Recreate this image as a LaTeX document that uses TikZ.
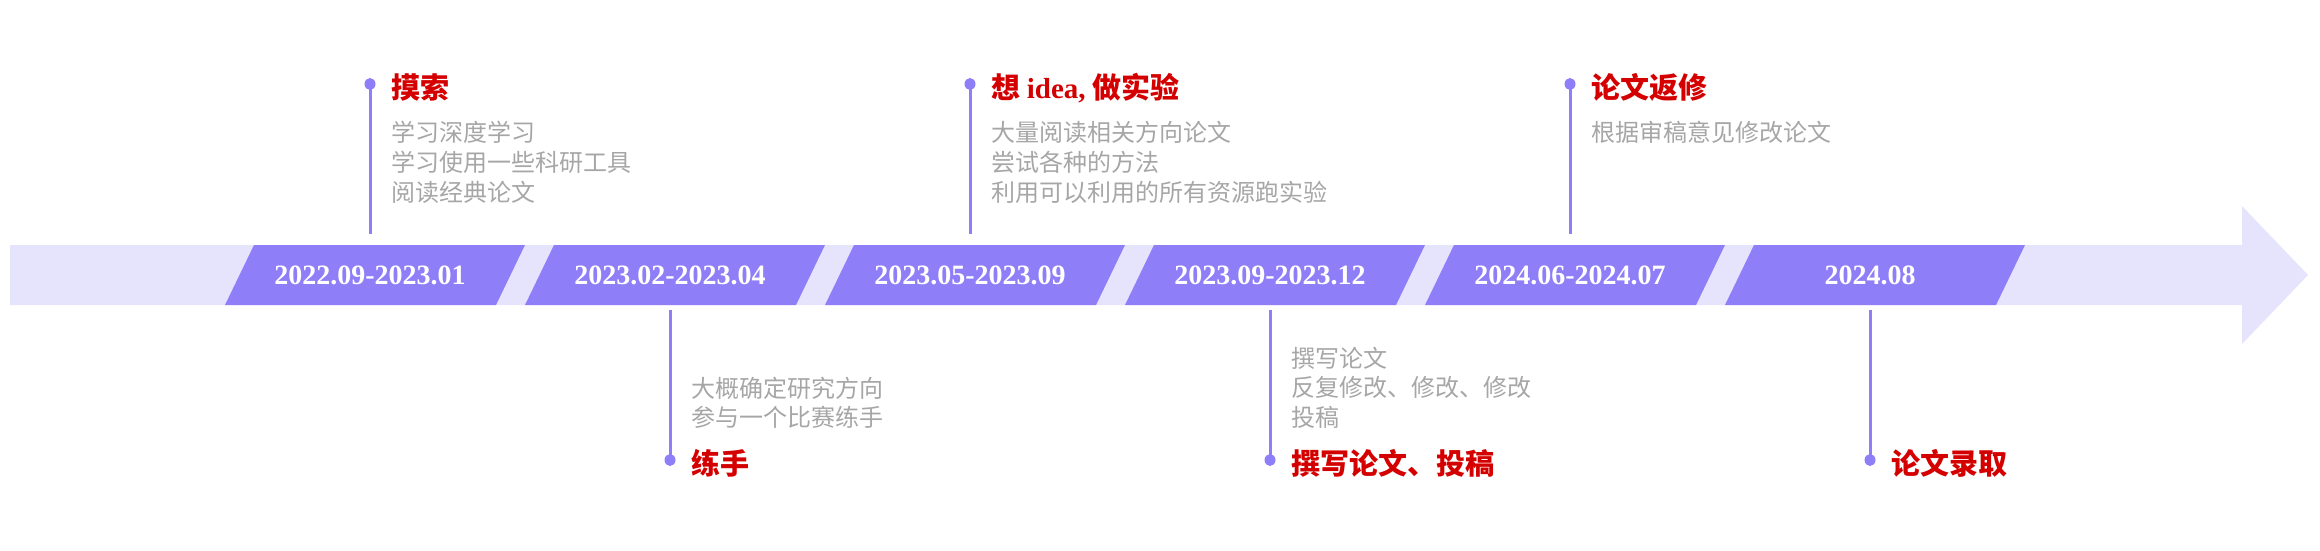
\documentclass[tikz,border=0pt]{standalone}
\usepackage{fontspec}
\setmainfont{Liberation Serif}
\newfontfamily\cjk{Noto Sans CJK SC}
\definecolor{bandc}{HTML}{E6E3FD}
\definecolor{boxc}{HTML}{8E7EF8}
\definecolor{titlered}{HTML}{D40000}
\definecolor{descc}{HTML}{A6A6A6}
\begin{document}
\begin{tikzpicture}[x=1pt,y=-1pt,
  datebox/.style={fill=boxc},
  datetxt/.style={text=white, font=\fontsize{28}{28}\selectfont\bfseries, inner sep=0pt, anchor=base},
  ttl/.style={text=titlered, font=\fontsize{29}{29}\selectfont\cjk\bfseries, inner sep=0pt, anchor=base west},
  dsc/.style={text=descc, font=\fontsize{24}{24}\selectfont\cjk, inner sep=0pt, anchor=base west},
  stem/.style={draw=boxc, line width=3pt},
  dotc/.style={fill=boxc}
]
\useasboundingbox (0,0) rectangle (2320,550);
% band with arrow head
\fill[bandc] (10,245) -- (2242,245) -- (2242,206) -- (2308,275) -- (2242,344) -- (2242,305) -- (10,305) -- cycle;
% date boxes
\foreach \i/\d in {0/2022.09-2023.01,1/2023.02-2023.04,2/2023.05-2023.09,3/2023.09-2023.12,4/2024.06-2024.07,5/2024.08}{
  \pgfmathsetmacro{\xx}{370+300*\i}
  \fill[datebox] (\xx-145,305) -- (\xx+126,305) -- (\xx+155,245) -- (\xx-116,245) -- cycle;
  \node[datetxt] (date\i) at (\xx,284) {\d};
}
% top stems
\foreach \i in {0,2,4}{
  \pgfmathsetmacro{\xx}{370+300*\i}
  \coordinate (ts\i) at (\xx,84);
  \coordinate (tb\i) at (\xx,234);
  \draw[stem] (ts\i) -- (tb\i);
  \fill[dotc] (ts\i) ellipse (5.5 and 6);
}
% bottom stems
\foreach \i in {1,3,5}{
  \pgfmathsetmacro{\xx}{370+300*\i}
  \coordinate (bs\i) at (\xx,310);
  \coordinate (be\i) at (\xx,460);
  \draw[stem] (bs\i) -- (be\i);
  \fill[dotc] (be\i) ellipse (5.5 and 6);
}
% texts, event 1
\node[ttl] (t0) at (391,98) {摸索};
\node[dsc] (d0a) at (391,141) {学习深度学习};
\node[dsc] (d0b) at (391,171) {学习使用一些科研工具};
\node[dsc] (d0c) at (391,201) {阅读经典论文};
% event 2
\node[dsc] (d1a) at (691,397) {大概确定研究方向};
\node[dsc] (d1b) at (691,426) {参与一个比赛练手};
\node[ttl] (t1) at (691,474) {练手};
% event 3
\node[ttl] (t2) at (991,98) {想 {\rmfamily\bfseries idea,} 做实验};
\node[dsc] (d2a) at (991,141) {大量阅读相关方向论文};
\node[dsc] (d2b) at (991,171) {尝试各种的方法};
\node[dsc] (d2c) at (991,201) {利用可以利用的所有资源跑实验};
% event 4
\node[dsc] (d3a) at (1291,367) {撰写论文};
\node[dsc] (d3b) at (1291,396) {反复修改、修改、修改};
\node[dsc] (d3c) at (1291,426) {投稿};
\node[ttl] (t3) at (1291,474) {撰写论文、投稿};
% event 5
\node[ttl] (t4) at (1591,98) {论文返修};
\node[dsc] (d4a) at (1591,141) {根据审稿意见修改论文};
% event 6
\node[ttl] (t5) at (1891,474) {论文录取};
\end{tikzpicture}
\end{document}
